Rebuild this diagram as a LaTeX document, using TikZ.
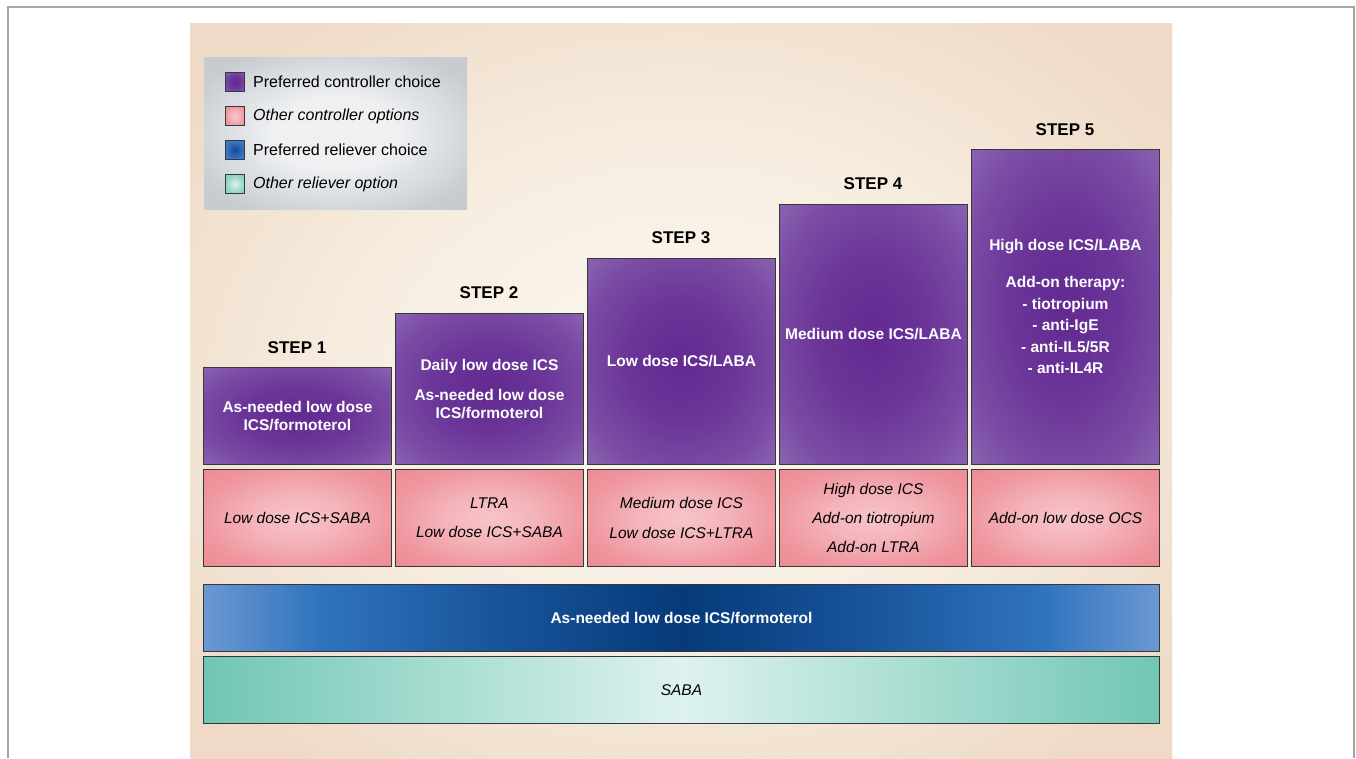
\documentclass[tikz,border=0pt]{standalone}
\usepackage{fontspec}
\setmainfont{Liberation Sans}
\definecolor{framegray}{RGB}{165,165,165}
\definecolor{bgin}{RGB}{252,248,240}
\definecolor{bgmid}{RGB}{247,238,225}
\definecolor{bgout}{RGB}{238,218,198}
\definecolor{lgin}{RGB}{238,240,242}
\definecolor{lgout}{RGB}{200,204,209}
\definecolor{boxline}{RGB}{55,55,62}
\definecolor{pcin}{RGB}{98,42,146}
\definecolor{pcmid}{RGB}{106,52,152}
\definecolor{pcout}{RGB}{122,76,164}
\definecolor{pcedge}{RGB}{140,100,178}
\definecolor{pkin}{RGB}{247,196,201}
\definecolor{pkmid}{RGB}{244,180,186}
\definecolor{pkout}{RGB}{239,150,158}
\definecolor{pkedge}{RGB}{236,138,147}
\definecolor{blA}{RGB}{108,152,210}
\definecolor{blB}{RGB}{48,116,190}
\definecolor{blC}{RGB}{25,85,155}
\definecolor{blD}{RGB}{6,58,122}
\definecolor{tlA}{RGB}{112,198,180}
\definecolor{tlB}{RGB}{165,220,208}
\definecolor{tlC}{RGB}{222,242,238}
\definecolor{swbin}{RGB}{18,72,150}
\definecolor{swbout}{RGB}{60,120,195}
\definecolor{swtin}{RGB}{220,242,238}
\definecolor{swtout}{RGB}{140,210,195}
\pgfdeclareradialshading{purp}{\pgfpoint{0bp}{0bp}}{color(0bp)=(pcin); color(14bp)=(pcmid); color(27bp)=(pcout); color(36bp)=(pcedge); color(50bp)=(pcedge)}
\pgfdeclareradialshading{pinkrad}{\pgfpoint{0bp}{0bp}}{color(0bp)=(pkin); color(12bp)=(pkmid); color(26bp)=(pkout); color(36bp)=(pkedge); color(50bp)=(pkedge)}
\pgfdeclareradialshading{bgrad}{\pgfpoint{0bp}{0bp}}{color(0bp)=(bgin); color(16bp)=(bgmid); color(32bp)=(bgout); color(50bp)=(bgout)}
\pgfdeclareradialshading{legrad}{\pgfpoint{0bp}{0bp}}{color(0bp)=(lgin); color(12bp)=(lgin); color(30bp)=(lgout); color(50bp)=(lgout)}
\pgfdeclarehorizontalshading{bluebar}{100bp}{color(0bp)=(blA); color(25bp)=(blA); color(31bp)=(blB); color(40bp)=(blC); color(50bp)=(blD); color(60bp)=(blC); color(69bp)=(blB); color(75bp)=(blA); color(100bp)=(blA)}
\pgfdeclarehorizontalshading{tealbar}{100bp}{color(0bp)=(tlA); color(25bp)=(tlA); color(37bp)=(tlB); color(50bp)=(tlC); color(63bp)=(tlB); color(75bp)=(tlA); color(100bp)=(tlA)}
\begin{document}
\begin{tikzpicture}[x=1pt,y=-1pt,
  box/.style={draw=boxline, line width=0.9pt, inner sep=0pt, anchor=north west, align=center, minimum width=188pt},
  ctrl/.style={box, shade, shading=purp, text=white, font=\bfseries\fontsize{15.5}{18}\selectfont},
  other/.style={box, shade, shading=pinkrad, text=black, minimum height=97pt, font=\itshape\fontsize{15.5}{18}\selectfont},
  bar/.style={draw=boxline, line width=0.9pt, inner sep=0pt, anchor=north west, minimum width=956pt, minimum height=67pt, font=\fontsize{15.5}{18}\selectfont},
  steplbl/.style={font=\bfseries\fontsize{17}{20}\selectfont, text=black, inner sep=0pt},
  swatch/.style={draw=boxline, line width=0.8pt, minimum width=19pt, minimum height=19pt, inner sep=0pt},
  lgtext/.style={anchor=west, inner sep=0pt, font=\fontsize{16}{19}\selectfont}
]
\useasboundingbox (0,0) rectangle (1356,758);
\fill[white] (0,0) rectangle (1356,758);
\draw[framegray, line width=1.3pt] (8,758) -- (8,7) -- (1354,7) -- (1354,758);
% background panel
\shade[shading=bgrad] (190,23) rectangle (1172,758);
% legend
\shade[shading=legrad] (204,57) rectangle (467,209);
\node[swatch, shade, shading=purp] (k1) at (235,82) {};
\node[swatch, shade, shading=pinkrad] (k2) at (235,116) {};
\node[swatch, inner color=swbin, outer color=swbout] (k3) at (235,150) {};
\node[swatch, inner color=swtin, outer color=swtout] (k4) at (235,184) {};
\node[lgtext] (t1) at (253,82) {Preferred controller choice};
\node[lgtext, font=\itshape\fontsize{16}{19}\selectfont] (t2) at (253,116) {Other controller options};
\node[lgtext] (t3) at (253,150) {Preferred reliever choice};
\node[lgtext, font=\itshape\fontsize{16}{19}\selectfont] (t4) at (253,184) {Other reliever option};
% step labels
\node[steplbl] (s1) at (297,348) {STEP 1};
\node[steplbl] (s2) at (489,293) {STEP 2};
\node[steplbl] (s3) at (681,238) {STEP 3};
\node[steplbl] (s4) at (873,184) {STEP 4};
\node[steplbl] (s5) at (1065,130) {STEP 5};
% controller boxes
\node[ctrl, minimum height=97pt] (c1) at (203,367) {As-needed low dose\\ICS/formoterol};
\node[ctrl, minimum height=151pt] (c2) at (395,313) {Daily low dose ICS\\[12pt]As-needed low dose\\ICS/formoterol};
\node[ctrl, minimum height=206pt] (c3) at (587,258) {Low dose ICS/LABA};
\node[ctrl, minimum height=260pt] (c4) at (779,204) {Medium dose ICS/LABA};
\node[ctrl, minimum height=315pt, font=\bfseries\fontsize{15.5}{21.5}\selectfont] (c5) at (971,149) {High dose ICS/LABA\\[15.5pt]Add-on therapy:\\- tiotropium\\- anti-IgE\\- anti-IL5/5R\\- anti-IL4R};
% other controller options
\node[other] (o1) at (203,469) {Low dose ICS+SABA};
\node[other] (o2) at (395,469) {LTRA\\[11.3pt]Low dose ICS+SABA};
\node[other] (o3) at (587,469) {Medium dose ICS\\[11.3pt]Low dose ICS+LTRA};
\node[other] (o4) at (779,469) {High dose ICS\\[11.3pt]Add-on tiotropium\\[11.3pt]Add-on LTRA};
\node[other] (o5) at (971,469) {Add-on low dose OCS};
% reliever bars
\node[bar, shade, shading=bluebar, text=white, font=\bfseries\fontsize{15.5}{18}\selectfont] (rel) at (203,584) {As-needed low dose ICS/formoterol};
\node[bar, shade, shading=tealbar, text=black, font=\itshape\fontsize{15.5}{18}\selectfont] (saba) at (203,656) {SABA};
\end{tikzpicture}
\end{document}
